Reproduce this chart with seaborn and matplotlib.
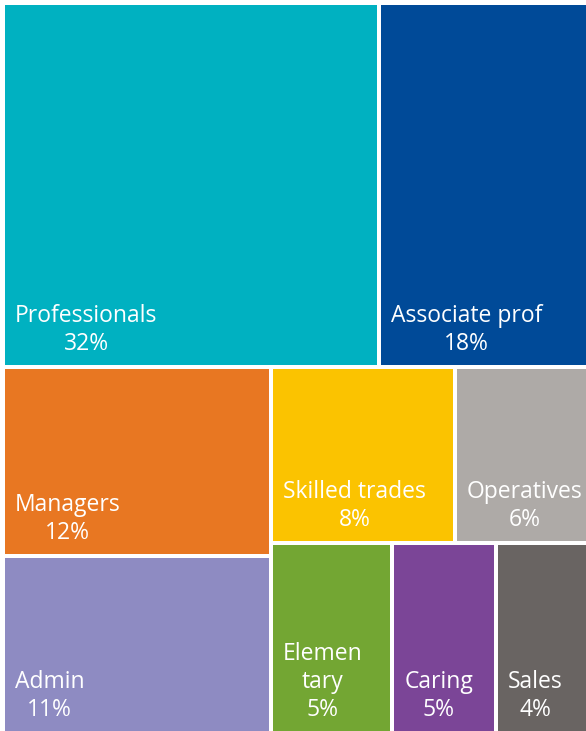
import matplotlib
matplotlib.use("Agg")
import matplotlib.pyplot as plt
from matplotlib.patches import Rectangle
import seaborn as sns

# Occupation shares (%), read from tile areas; labels show the rounded value
names = ["Professionals", "Associate prof", "Managers", "Admin",
         "Skilled trades", "Operatives", "Elemen\ntary", "Caring", "Sales"]
shares = [32.0, 17.8, 11.9, 11.1, 7.6, 5.5, 5.4, 4.6, 4.1]
colors = ["#00b1c1", "#004a98", "#e87722", "#8e8bc2", "#fbc300",
          "#aeaaa7", "#73a633", "#7b4597", "#696462"]

# nesting of the treemap: 'v' stacks children top to bottom, 'h' left to right
tree = ("v", [("h", [0, 1]),
              ("h", [("v", [2, 3]),
                     ("v", [("h", [4, 5]), ("h", [6, 7, 8])])])])


def weight(node):
    if isinstance(node, int):
        return shares[node]
    return sum(weight(c) for c in node[1])


def layout(node, x, y, w, h, out):
    if isinstance(node, int):
        out[node] = (x, y, w, h)
        return
    direction, children = node
    total = weight(node)
    pos = 0.0
    for c in children:
        frac = weight(c) / total
        if direction == "h":
            layout(c, x + pos * w, y, frac * w, h, out)
        else:
            layout(c, x, y + pos * h, w, frac * h, out)
        pos += frac


W, H = 585, 730
gap = 2.0
rects = {}
layout(tree, 0, 0, W, H, rects)

sns.set_theme(style="white")
plt.rcParams["font.family"] = ["Open Sans", "DejaVu Sans"]
palette = sns.color_palette(colors)

fig = plt.figure(figsize=(5.86, 7.31), dpi=100)
ax = fig.add_axes([3 / 586, -2 / 731, 585 / 586, 730 / 731])

for i, name in enumerate(names):
    x, y, w, h = rects[i]
    ax.add_patch(Rectangle((x + gap, y + gap), w - 2 * gap, h - 2 * gap,
                           facecolor=palette[i], edgecolor="none"))
    ax.text(x + gap + 10, y + h - gap - 15, f"{name}\n{round(shares[i])}%",
            ha="left", va="baseline", multialignment="center",
            color="white", fontsize=16.5, linespacing=1.22)

ax.set_xlim(0, W)
ax.set_ylim(H, 0)
ax.axis("off")

fig.savefig("out.png", dpi=100)
